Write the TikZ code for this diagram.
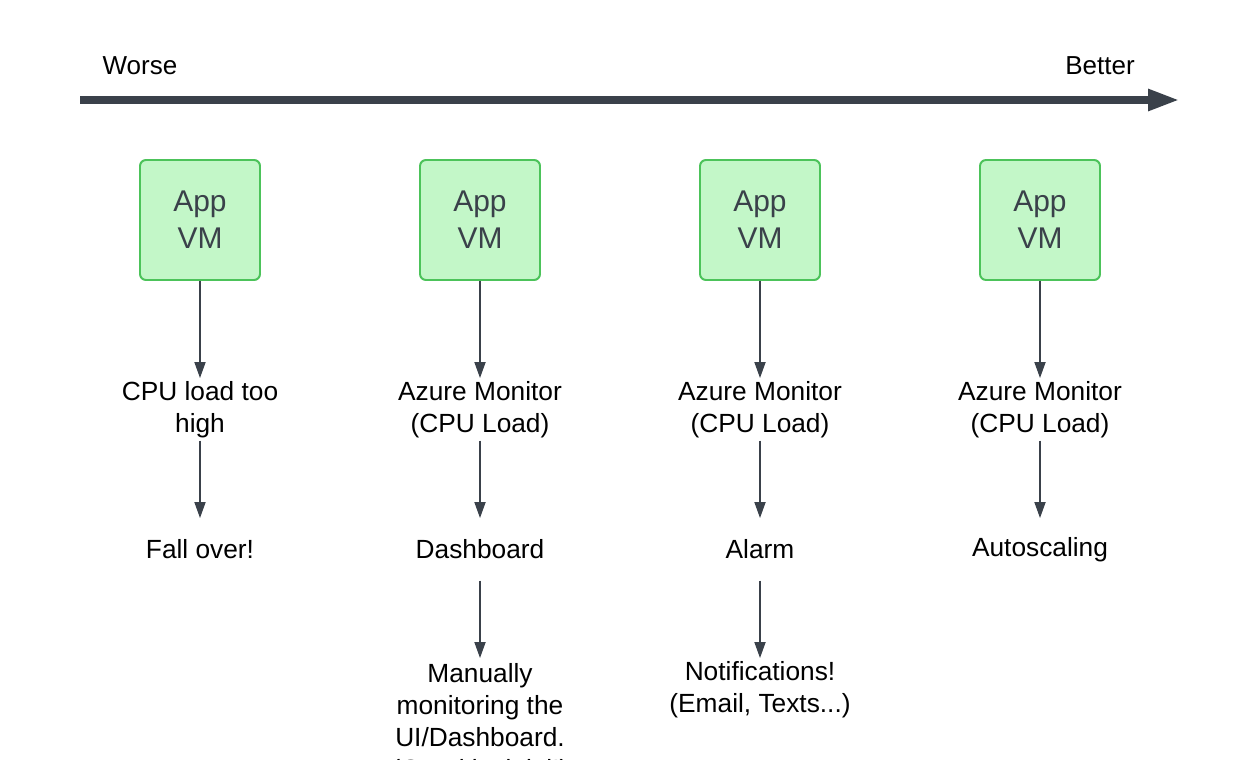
\documentclass[tikz,border=0pt]{standalone}
\usepackage{fontspec}
\setmainfont{Liberation Sans}
\usetikzlibrary{positioning, arrows.meta}
\definecolor{slate}{HTML}{3A414A}
\definecolor{vmfill}{HTML}{C3F7C8}
\definecolor{vmline}{HTML}{4CC35A}

\begin{document}
\begin{tikzpicture}[
    vmbox/.style={rectangle, draw=vmline, fill=vmfill, line width=1.4pt, rounded corners=0.15cm, minimum size=3cm, align=center, text=slate, font=\fontsize{21.3}{26.2}\selectfont},
    txt/.style={align=center, inner sep=0pt, minimum height=1.55cm, anchor=north, font=\fontsize{18.7}{22.7}\selectfont},
    flow/.style={-{Triangle[length=0.4cm, width=0.28cm]}, draw=slate, line width=0.85pt},
    scalearrow/.style={-{Triangle[length=0.8cm, width=0.5cm]}, draw=slate, line width=0.2cm}
]
  \useasboundingbox (0,0) rectangle (31,-19);

  % scale from worse to better
  \coordinate (worse) at (2,-2.5);
  \coordinate (better) at (29.5,-2.5);
  \draw[scalearrow] (worse) -- (better);
  \node[font=\fontsize{18.5}{22}\selectfont] (lworse) at (3.5,-1.65) {Worse};
  \node[font=\fontsize{18.5}{22}\selectfont] (lbetter) at (27.5,-1.65) {Better};

  % app VMs
  \node[vmbox] (vm1) at (5,-5.5) {App\\VM};
  \node[vmbox] (vm2) at (12,-5.5) {App\\VM};
  \node[vmbox] (vm3) at (19,-5.5) {App\\VM};
  \node[vmbox] (vm4) at (26,-5.5) {App\\VM};

  % monitoring
  \node[txt] (mon1) at (5,-9.45) {CPU load too\\high};
  \node[txt] (mon2) at (12,-9.45) {Azure Monitor\\(CPU Load)};
  \node[txt] (mon3) at (19,-9.45) {Azure Monitor\\(CPU Load)};
  \node[txt] (mon4) at (26,-9.45) {Azure Monitor\\(CPU Load)};

  % what happens next
  \node[txt] (res1) at (5,-12.95) {Fall over!};
  \node[txt] (res2) at (12,-12.95) {Dashboard};
  \node[txt] (res3) at (19,-12.95) {Alarm};
  \node[txt] (res4) at (26,-12.95) {Autoscaling};

  \node[txt, inner ysep=0.14cm] (act2) at (12,-16.45) {Manually\\monitoring the\\UI/Dashboard.\\(Good luck lol!)};
  \node[txt] (act3) at (19,-16.45) {Notifications!\\(Email, Texts...)};

  % connectors
  \draw[flow] (vm1) -- (mon1);
  \draw[flow] (vm2) -- (mon2);
  \draw[flow] (vm3) -- (mon3);
  \draw[flow] (vm4) -- (mon4);
  \draw[flow] (mon1) -- (res1);
  \draw[flow] (mon2) -- (res2);
  \draw[flow] (mon3) -- (res3);
  \draw[flow] (mon4) -- (res4);
  \draw[flow] (res2) -- (act2);
  \draw[flow] (res3) -- (act3);
\end{tikzpicture}
\end{document}
